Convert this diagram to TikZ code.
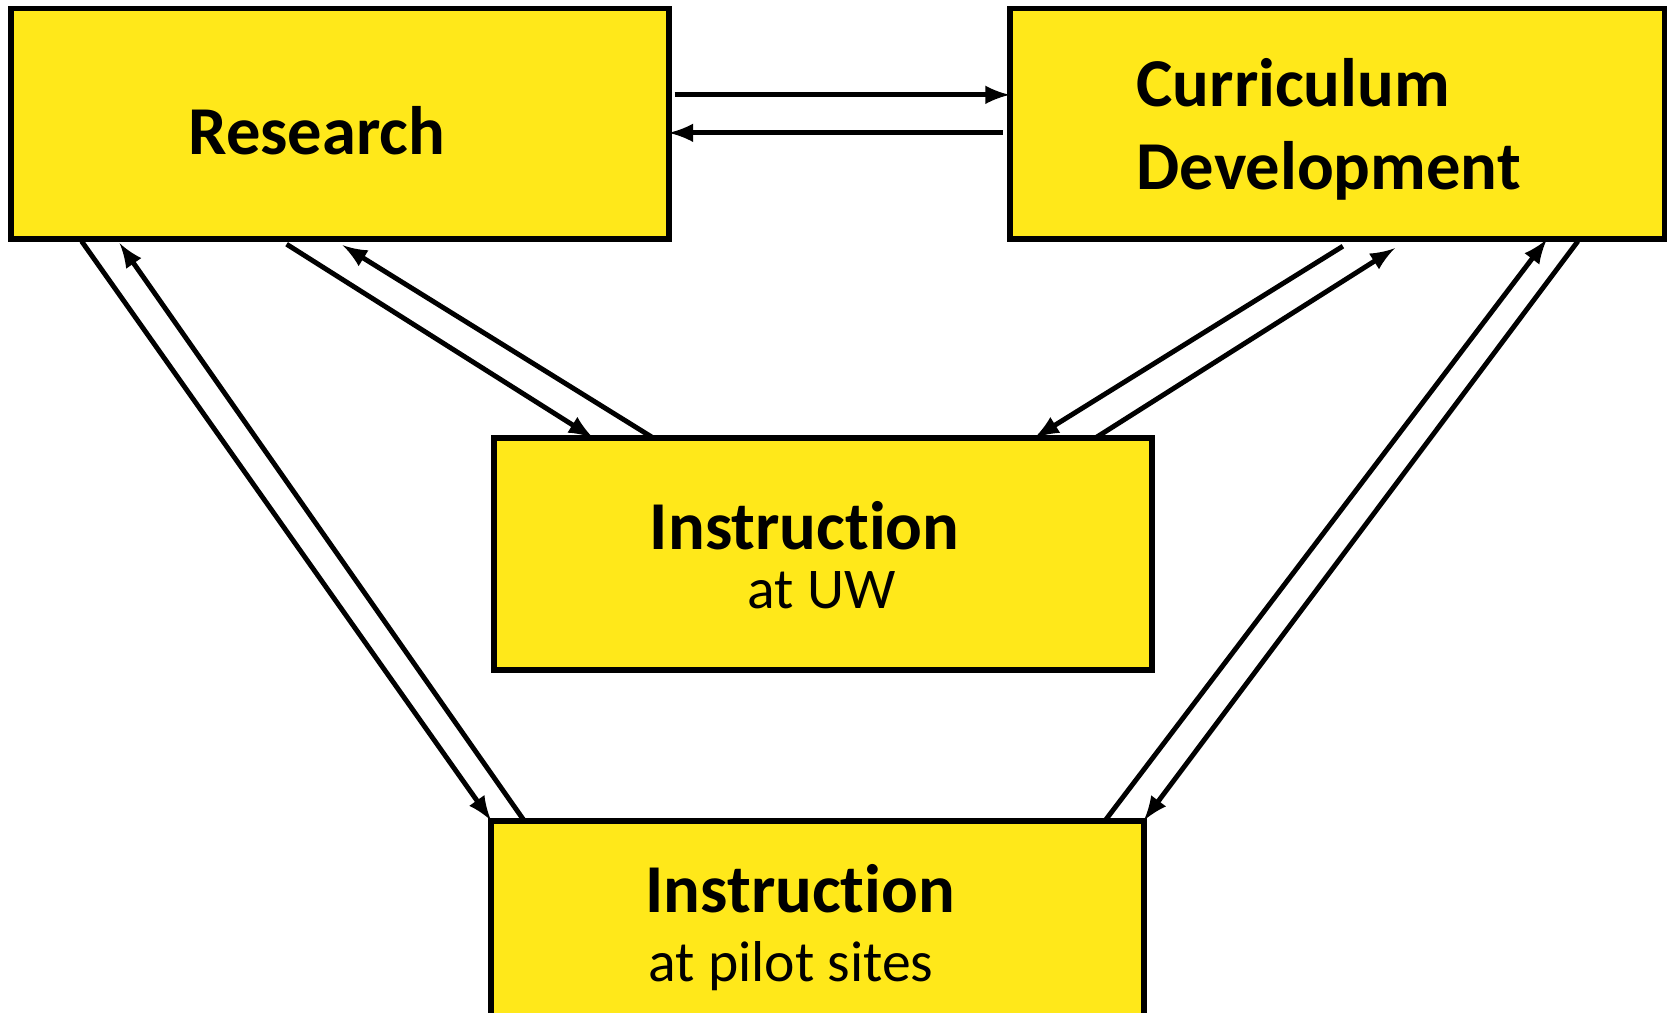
\documentclass[tikz,border=0pt]{standalone}
\usepackage{fontspec}
\setmainfont{Carlito}[Ligatures=NoCommon]
\usepackage{tikz}
\usetikzlibrary{arrows}
\definecolor{boxyellow}{RGB}{255,232,26}

\begin{document}
\begin{tikzpicture}[>=latex, line width=1.4pt,
box/.style={draw, fill=boxyellow, line width=1.7pt, outer sep=0pt, inner sep=0pt},
head/.style={font=\fontsize{19.5}{23}\selectfont\bfseries, inner sep=0pt},
sub/.style={font=\fontsize{16.4}{20}\selectfont, inner sep=0pt}]
\useasboundingbox (0,0) rectangle (16.67,-10.13);
\node [box, minimum width=6.58cm, minimum height=2.307cm] (res) at (3.396,-1.2385) {};
\node [box, minimum width=6.548cm, minimum height=2.307cm] (cur) at (13.373,-1.2385) {};
\node [box, minimum width=6.58cm, minimum height=2.317cm] (uw) at (8.233,-5.5385) {};
\node [box, minimum width=6.527cm, minimum height=2.1cm] (pil) at (8.1745,-9.256) {};
\node [head, anchor=base] (resT) at (3.168,-1.541) {Research};
\node [head, anchor=base west] (curT) at (11.342,-1.063) {Curriculum};
\node [head, anchor=base west] (curB) at (11.342,-1.892) {Development};
\node [head, anchor=base] (uwT) at (8.047,-5.496) {Instruction};
\node [sub, anchor=base] (uwS) at (8.217,-6.080) {at UW};
\node [head, anchor=base] (pilT) at (8.004,-9.121) {Instruction};
\node [sub, anchor=base west] (pilS) at (6.463,-9.815) {at pilot sites};
% research <-> curriculum
\draw [->] ([xshift=0.6mm,yshift=2.9mm]res.east) -- ([yshift=2.9mm]cur.west) ;
\draw [->] ([xshift=-0.7mm,yshift=-0.9mm]cur.west) -- ([yshift=-0.9mm]res.east) ;
% research <-> instruction at UW
\draw [->] ([xshift=27.6mm,yshift=-0.5mm]res.south west) -- ([xshift=9.9mm]uw.north west) ;
\draw [->] ([xshift=15.9mm]uw.north west) -- ([xshift=33.2mm,yshift=-0.6mm]res.south west) ;
% curriculum <-> instruction at UW
\draw [->] ([xshift=33.3mm,yshift=-0.7mm]cur.south west) -- ([xshift=54mm]uw.north west) ;
\draw [->] ([xshift=60.1mm]uw.north west) -- ([xshift=38.5mm,yshift=-0.9mm]cur.south west) ;
% research <-> pilot sites
\draw [->] ([xshift=7.1mm,yshift=-0.2mm]res.south west) -- (pil.north west) ;
\draw [->] ([xshift=3.3mm]pil.north west) -- ([xshift=10.9mm,yshift=-0.4mm]res.south west) ;
% curriculum <-> pilot sites
\draw [->] ([xshift=61.4mm]pil.north west) -- ([xshift=53.7mm]cur.south west) ;
\draw [->] ([xshift=56.8mm,yshift=-0.2mm]cur.south west) -- (pil.north east) ;
\end{tikzpicture}
\end{document}
